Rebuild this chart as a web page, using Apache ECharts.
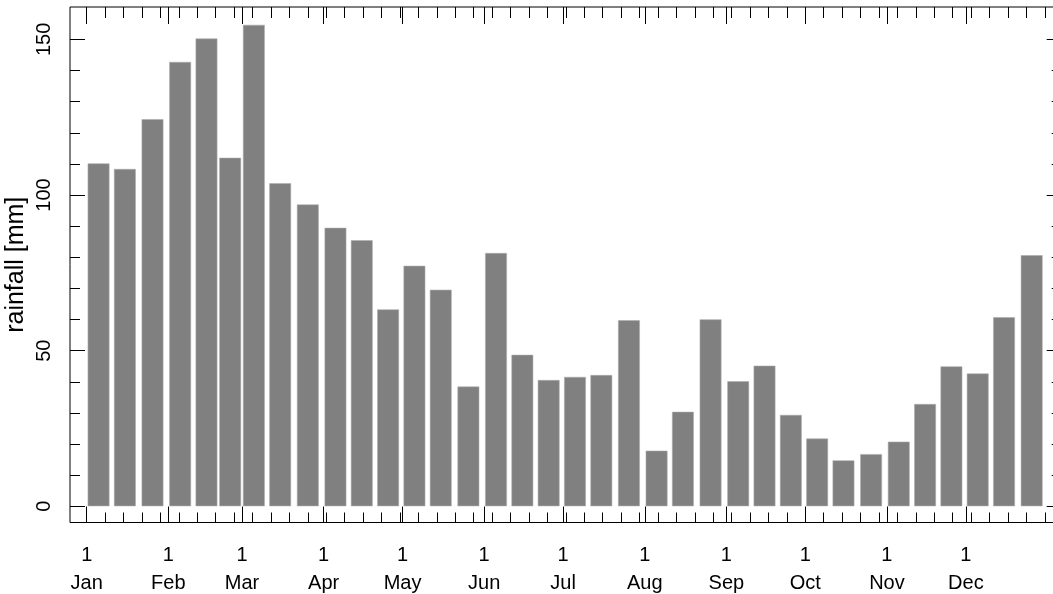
<!DOCTYPE html>
<html>
<head>
<meta charset="utf-8">
<script src="https://cdn.jsdelivr.net/npm/echarts@6/dist/echarts.min.js"></script>
<style>
html,body{margin:0;padding:0;background:#fff;}
#c{width:1053px;height:594px;}
</style>
</head>
<body>
<div id="c"></div>
<script>
// ---- data ----
const months = ['Jan','Feb','Mar','Apr','May','Jun','Jul','Aug','Sep','Oct','Nov','Dec'];
const monthDays = [31,28,31,30,31,30,31,31,30,31,30,31];
// rainfall per dekad (3 per month), mm
const rainfall = [
  110.2,108.4,124.4,
  142.8,150.3,112.0,
  154.7,103.8, 97.0,
   89.5, 85.5, 63.3,
   77.3, 69.6, 38.5,
   81.4, 48.7, 40.6,
   41.6, 42.2, 59.8,
   17.9, 30.4, 60.1,
   40.2, 45.2, 29.4,
   21.8, 14.8, 16.8,
   20.8, 32.9, 45.0,
   42.7, 60.8, 80.7
];
const yMinorTicks = [0,10,20,30,40,50,60,70,80,90,100,110,120,130,140,150];
const yMajorTicks = [0,50,100,150];
const yTitle = 'rainfall [mm]';

// ---- derived calendar positions (day of year, 0 = Jan 1) ----
const monthStarts = [];
const dekadCenters = [];
{
  let s = 0;
  for (let m = 0; m < 12; m++) {
    monthStarts.push(s);
    const L = monthDays[m];
    dekadCenters.push(s + 4.5, s + 14.5, s + (20 + L - 1) / 2);
    s += L;
  }
}
const XMIN = -6.35, XMAX = 370.4;
const weekTicks = [];
for (let d = 0; d <= XMAX; d += 7) weekTicks.push(d);

const barData = dekadCenters.map((c, i) => [c, rainfall[i]]);

const FONT = '"Liberation Sans", Arial, Helvetica, sans-serif';
const baseX = {
  type: 'value', min: XMIN, max: XMAX, offset: 0,
  axisLine: {show: false, onZero: false}, splitLine: {show: false},
  axisLabel: {show: false}
};
const baseY = {
  type: 'value', min: -5.2, max: 160.4, offset: 0,
  axisLine: {show: false, onZero: false}, splitLine: {show: false},
  axisLabel: {show: false}
};
const tickStyle = {color: '#000', width: 1};

const chart = echarts.init(document.getElementById('c'), null, {renderer: 'canvas'});
chart.setOption({
  animation: false,
  backgroundColor: '#fff',
  grid: {left: 70, top: 7, width: 991.7, height: 515.5, show: true,
         outerBoundsMode: 'none', containLabel: false,
         borderColor: '#000', borderWidth: 1, backgroundColor: 'transparent'},
  xAxis: [
    Object.assign({}, baseX, {position: 'bottom',
      axisTick: {inside: true, length: 10, lineStyle: tickStyle, customValues: weekTicks}}),
    Object.assign({}, baseX, {position: 'bottom',
      axisTick: {inside: true, length: 16, lineStyle: tickStyle, customValues: monthStarts},
      axisLabel: {show: true, customValues: monthStarts, color: '#000', fontFamily: FONT,
        fontSize: 20, lineHeight: 28, margin: 19,
        formatter: v => '1\n' + months[monthStarts.indexOf(Math.round(v))]}}),
    Object.assign({}, baseX, {position: 'top',
      axisTick: {inside: true, length: 11, lineStyle: tickStyle, customValues: weekTicks}}),
    Object.assign({}, baseX, {position: 'top',
      axisTick: {inside: true, length: 17, lineStyle: tickStyle, customValues: monthStarts}})
  ],
  yAxis: [
    Object.assign({}, baseY, {position: 'left',
      axisTick: {inside: true, length: 10, lineStyle: tickStyle, customValues: yMinorTicks},
      name: yTitle, nameLocation: 'middle', nameRotate: 90, nameGap: 41,
      nameTextStyle: {color: '#000', fontFamily: FONT, fontSize: 25}}),
    Object.assign({}, baseY, {position: 'left',
      axisTick: {inside: true, length: 15, lineStyle: tickStyle, customValues: yMajorTicks},
      axisLabel: {show: true, customValues: yMajorTicks, rotate: 90, margin: 16,
        color: '#000', fontFamily: FONT, fontSize: 20}}),
    Object.assign({}, baseY, {position: 'right',
      axisTick: {inside: true, length: 10, lineStyle: tickStyle, customValues: yMinorTicks}}),
    Object.assign({}, baseY, {position: 'right',
      axisTick: {inside: true, length: 15, lineStyle: tickStyle, customValues: yMajorTicks}})
  ],
  series: [{
    type: 'bar', xAxisIndex: 0, yAxisIndex: 0,
    data: barData, barWidth: 22,
    itemStyle: {color: '#808080', borderColor: 'rgba(170,170,170,0.7)', borderWidth: 0.8}
  }]
});
</script>
</body>
</html>
